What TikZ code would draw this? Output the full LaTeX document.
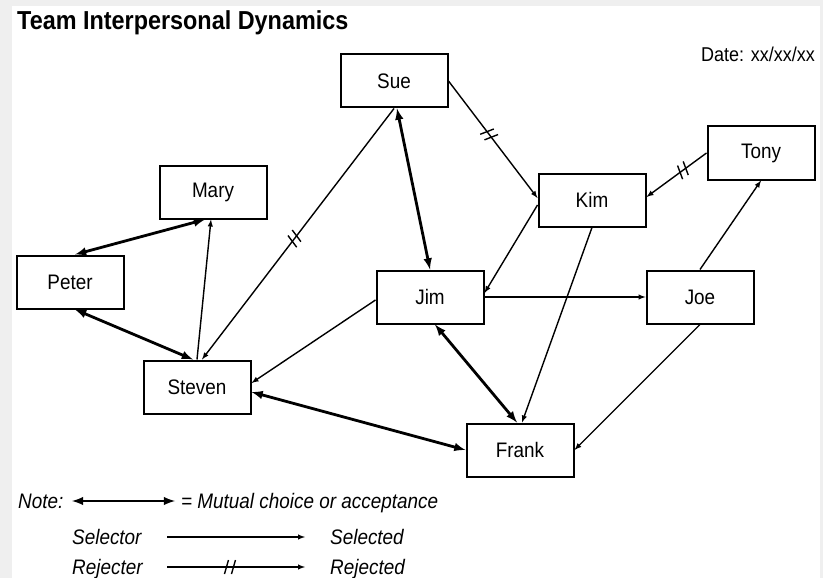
\documentclass[tikz,border=0pt]{standalone}
\usepackage{fontspec}
\setmainfont{Liberation Sans}[FakeStretch=0.9]
\usetikzlibrary{decorations.markings}
\tikzset{>=latex}
\definecolor{edgegray}{HTML}{EFEFEF}
\tikzset{
    person/.style={draw, line width=2pt, fill=white, minimum width=107pt, minimum height=53pt, inner sep=0pt, font=\fontsize{21}{24}\selectfont},
    choice/.style={->, line width=1.4pt},
    mutual/.style={<->, line width=2.8pt},
    reject/.style={->, line width=1.4pt, postaction={decorate, decoration={markings,
        mark=at position #1 with {\draw[line width=1.4pt,-] (-6pt,-7pt) -- (-2pt,7pt); \draw[line width=1.4pt,-] (1pt,-7pt) -- (5pt,7pt);}}}},
    reject/.default=0.5,
    legend/.style={font=\fontsize{21}{24}\selectfont\itshape, inner sep=0pt}
}

\begin{document}
\begin{tikzpicture}[x=1pt, y=-1pt]
    \fill[edgegray] (0,0) rectangle (823,578);
    \fill[white] (12,6) rectangle (820,578);
    \useasboundingbox (0,0) rectangle (823,578);

    \node[anchor=base west, inner sep=0pt, font=\fontsize{26}{29}\selectfont\bfseries] (title) at (17,30) {Team Interpersonal Dynamics};
    \node[anchor=base east, inner sep=0pt, font=\fontsize{20}{23}\selectfont] (date) at (815,62) {Date: xx/xx/xx};

    \node[person] at (394,81) (sue) {Sue};
    \node[person] at (213,192) (mary) {Mary};
    \node[person] at (70,282) (peter) {Peter};
    \node[person] at (197,387) (steven) {Steven};
    \node[person] at (430,297) (jim) {Jim};
    \node[person] at (592,200) (kim) {Kim};
    \node[person] at (761,153) (tony) {Tony};
    \node[person] at (700,297) (joe) {Joe};
    \node[person] at (520,450) (frank) {Frank};

    \draw[mutual] ([xshift=-8pt]mary.south) -- ([xshift=5pt]peter.north);
    \draw[choice] (steven.north) -- ([xshift=-2pt]mary.south);
    \draw[mutual] ([xshift=5pt]peter.south) -- ([xshift=-4pt]steven.north);
    \draw[reject=0.52] (sue.south) -- ([xshift=5pt]steven.north);
    \draw[mutual] ([xshift=3pt]sue.south) -- (jim.north);
    \draw[reject=0.46] (sue.east) -- ([yshift=2pt]kim.west);
    \draw[reject=0.4] (tony.west) -- ([yshift=3pt]kim.east);
    \draw[choice] ([yshift=-5pt]kim.west) -- ([yshift=4pt]jim.east);
    \draw[choice] (kim.south) -- ([xshift=2pt]frank.north);
    \draw[choice] (jim.east) -- (joe.west);
    \draw[choice] (joe.north) -- (tony.south);
    \draw[choice] (joe.south) -- (frank.east);
    \draw[mutual] ([xshift=5pt]jim.south) -- ([xshift=-3pt]frank.north);
    \draw[choice] ([yshift=-3pt]jim.west) -- ([yshift=4pt]steven.east);
    \draw[mutual] ([yshift=-5pt]steven.east) -- (frank.west);

    % legend
    \node[legend, anchor=base west] (note) at (18,508) {Note:};
    \coordinate (m1) at (72,501);
    \coordinate (m2) at (175,501);
    \node[legend, anchor=base west] (mutualtxt) at (181,508) {= Mutual choice or acceptance};
    \draw[mutual] (m1) -- (m2);

    \node[legend, anchor=base west] (selector) at (72,544) {Selector};
    \coordinate (s1) at (167,537);
    \coordinate (s2) at (305,537);
    \node[legend, anchor=base west] (selected) at (330,544) {Selected};
    \draw[choice] (s1) -- (s2);

    \node[legend, anchor=base west] (rejecter) at (72,574) {Rejecter};
    \coordinate (r1) at (167,567);
    \coordinate (r2) at (305,567);
    \node[legend, anchor=base west] (rejected) at (330,574) {Rejected};
    \draw[reject=0.46] (r1) -- (r2);
\end{tikzpicture}
\end{document}
